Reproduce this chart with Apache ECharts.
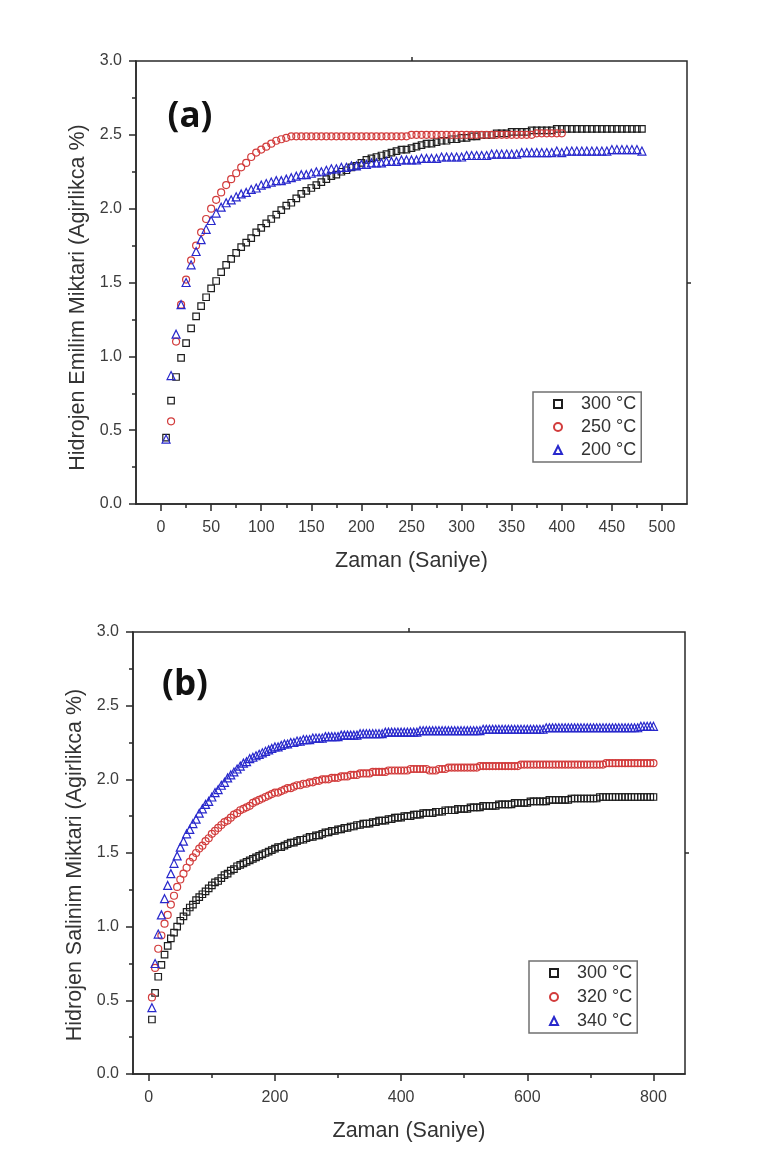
<!DOCTYPE html>
<html>
<head>
<meta charset="utf-8">
<script src="https://cdn.jsdelivr.net/npm/echarts@6/dist/echarts.min.js"></script>
<style>
  html, body { margin: 0; padding: 0; background: #ffffff; }
  #chart { width: 782px; height: 1156px; }
</style>
</head>
<body>
<div id="chart"></div>
<script>
// ---- Panel (a): hydrogen absorption, time in seconds ----
const timeA = [5,10,15,20,25,30,35,40,45,50,55,60,65,70,75,80,85,90,95,100,
  105,110,115,120,125,130,135,140,145,150,155,160,165,170,175,180,185,190,195,200,
  205,210,215,220,225,230,235,240,245,250,255,260,265,270,275,280,285,290,295,300,
  305,310,315,320,325,330,335,340,345,350,355,360,365,370,375,380,385,390,395,400,
  405,410,415,420,425,430,435,440,445,450,455,460,465,470,475,480];
const timeA250 = [10,15,20,25,30,35,40,45,50,55,60,65,70,75,80,85,90,95,100,105,
  110,115,120,125,130,135,140,145,150,155,160,165,170,175,180,185,190,195,200,205,
  210,215,220,225,230,235,240,245,250,255,260,265,270,275,280,285,290,295,300,305,
  310,315,320,325,330,335,340,345,350,355,360,365,370,375,380,385,390,395,400];

const absorb300 = [0.45,0.70,0.86,0.99,1.09,1.19,1.27,1.34,1.40,1.46,
  1.51,1.57,1.62,1.66,1.70,1.74,1.77,1.80,1.84,1.87,
  1.90,1.93,1.96,1.99,2.02,2.04,2.07,2.10,2.12,2.14,
  2.16,2.18,2.20,2.22,2.23,2.25,2.26,2.28,2.29,2.31,
  2.33,2.34,2.35,2.36,2.37,2.38,2.39,2.40,2.40,2.41,
  2.42,2.43,2.44,2.44,2.45,2.46,2.46,2.47,2.47,2.48,
  2.48,2.49,2.49,2.50,2.50,2.50,2.51,2.51,2.51,2.52,
  2.52,2.52,2.52,2.53,2.53,2.53,2.53,2.53,2.54,2.54,
  2.54,2.54,2.54,2.54,2.54,2.54,2.54,2.54,2.54,2.54,
  2.54,2.54,2.54,2.54,2.54,2.54];
const absorb250 = [0.56,1.10,1.35,1.52,1.65,1.75,1.84,1.93,2.00,2.06,
  2.11,2.16,2.20,2.24,2.28,2.31,2.35,2.38,2.40,2.42,
  2.44,2.46,2.47,2.48,2.49,2.49,2.49,2.49,2.49,2.49,
  2.49,2.49,2.49,2.49,2.49,2.49,2.49,2.49,2.49,2.49,
  2.49,2.49,2.49,2.49,2.49,2.49,2.49,2.49,2.50,2.50,
  2.50,2.50,2.50,2.50,2.50,2.50,2.50,2.50,2.50,2.50,
  2.50,2.50,2.50,2.50,2.50,2.50,2.50,2.50,2.50,2.50,
  2.50,2.50,2.50,2.51,2.51,2.51,2.51,2.51,2.51];
const absorb200 = [0.44,0.87,1.15,1.35,1.50,1.62,1.71,1.79,1.86,1.92,
  1.97,2.01,2.04,2.06,2.08,2.10,2.11,2.13,2.14,2.16,
  2.17,2.18,2.19,2.19,2.20,2.21,2.22,2.23,2.23,2.24,
  2.25,2.25,2.26,2.27,2.27,2.28,2.28,2.29,2.29,2.30,
  2.30,2.31,2.31,2.31,2.32,2.32,2.32,2.33,2.33,2.33,
  2.33,2.34,2.34,2.34,2.34,2.35,2.35,2.35,2.35,2.35,
  2.36,2.36,2.36,2.36,2.36,2.37,2.37,2.37,2.37,2.37,
  2.37,2.38,2.38,2.38,2.38,2.38,2.38,2.38,2.39,2.38,
  2.39,2.39,2.39,2.39,2.39,2.39,2.39,2.39,2.39,2.40,
  2.40,2.40,2.40,2.40,2.40,2.39];

// ---- Panel (b): hydrogen desorption ----
const timeB = [5,10,15,20,25,30,35,40,45,50,55,60,65,70,75,80,85,90,95,100,
  105,110,115,120,125,130,135,140,145,150,155,160,165,170,175,180,185,190,195,200,
  205,210,215,220,225,230,235,240,245,250,255,260,265,270,275,280,285,290,295,300,
  305,310,315,320,325,330,335,340,345,350,355,360,365,370,375,380,385,390,395,400,
  405,410,415,420,425,430,435,440,445,450,455,460,465,470,475,480,485,490,495,500,
  505,510,515,520,525,530,535,540,545,550,555,560,565,570,575,580,585,590,595,600,
  605,610,615,620,625,630,635,640,645,650,655,660,665,670,675,680,685,690,695,700,
  705,710,715,720,725,730,735,740,745,750,755,760,765,770,775,780,785,790,795,800];

const release300 = [0.37,0.55,0.66,0.74,0.81,0.87,0.92,0.96,1.00,1.04,
  1.07,1.10,1.13,1.15,1.18,1.20,1.22,1.24,1.26,1.28,
  1.30,1.31,1.33,1.35,1.36,1.38,1.39,1.41,1.42,1.43,
  1.44,1.45,1.46,1.47,1.48,1.49,1.50,1.51,1.52,1.53,
  1.54,1.54,1.55,1.56,1.57,1.57,1.58,1.59,1.59,1.60,
  1.61,1.61,1.62,1.62,1.63,1.64,1.64,1.65,1.65,1.66,
  1.66,1.67,1.67,1.68,1.68,1.69,1.69,1.70,1.70,1.70,
  1.71,1.71,1.72,1.72,1.72,1.73,1.73,1.74,1.74,1.74,
  1.75,1.75,1.75,1.76,1.76,1.76,1.77,1.77,1.77,1.77,
  1.78,1.78,1.78,1.79,1.79,1.79,1.79,1.80,1.80,1.80,
  1.80,1.81,1.81,1.81,1.81,1.82,1.82,1.82,1.82,1.82,
  1.83,1.83,1.83,1.83,1.83,1.84,1.84,1.84,1.84,1.84,
  1.85,1.85,1.85,1.85,1.85,1.85,1.86,1.86,1.86,1.86,
  1.86,1.86,1.86,1.87,1.87,1.87,1.87,1.87,1.87,1.87,
  1.87,1.87,1.88,1.88,1.88,1.88,1.88,1.88,1.88,1.88,
  1.88,1.88,1.88,1.88,1.88,1.88,1.88,1.88,1.88,1.88];
const release320 = [0.52,0.72,0.85,0.94,1.02,1.08,1.15,1.21,1.27,1.32,
  1.36,1.40,1.44,1.47,1.50,1.53,1.55,1.58,1.60,1.63,
  1.65,1.67,1.69,1.71,1.72,1.74,1.76,1.77,1.79,1.80,
  1.81,1.82,1.84,1.85,1.86,1.87,1.88,1.89,1.90,1.91,
  1.91,1.92,1.93,1.94,1.94,1.95,1.96,1.96,1.97,1.97,
  1.98,1.98,1.99,1.99,2.00,2.00,2.00,2.01,2.01,2.01,
  2.02,2.02,2.02,2.03,2.03,2.03,2.04,2.04,2.04,2.04,
  2.05,2.05,2.05,2.05,2.05,2.06,2.06,2.06,2.06,2.06,
  2.06,2.06,2.07,2.07,2.07,2.07,2.07,2.07,2.06,2.06,
  2.06,2.07,2.07,2.07,2.08,2.08,2.08,2.08,2.08,2.08,
  2.08,2.08,2.08,2.08,2.09,2.09,2.09,2.09,2.09,2.09,
  2.09,2.09,2.09,2.09,2.09,2.09,2.09,2.10,2.10,2.10,
  2.10,2.10,2.10,2.10,2.10,2.10,2.10,2.10,2.10,2.10,
  2.10,2.10,2.10,2.10,2.10,2.10,2.10,2.10,2.10,2.10,
  2.10,2.10,2.10,2.10,2.11,2.11,2.11,2.11,2.11,2.11,
  2.11,2.11,2.11,2.11,2.11,2.11,2.11,2.11,2.11,2.11];
const release340 = [0.45,0.75,0.95,1.08,1.19,1.28,1.36,1.43,1.48,1.54,
  1.58,1.63,1.66,1.70,1.73,1.77,1.80,1.83,1.85,1.88,
  1.91,1.93,1.96,1.98,2.01,2.03,2.05,2.07,2.09,2.11,
  2.12,2.14,2.15,2.16,2.17,2.18,2.19,2.20,2.21,2.22,
  2.22,2.23,2.24,2.24,2.25,2.25,2.26,2.26,2.27,2.27,
  2.27,2.28,2.28,2.28,2.28,2.29,2.29,2.29,2.29,2.29,
  2.30,2.30,2.30,2.30,2.30,2.30,2.31,2.31,2.31,2.31,
  2.31,2.31,2.31,2.31,2.32,2.32,2.32,2.32,2.32,2.32,
  2.32,2.32,2.32,2.32,2.32,2.33,2.33,2.33,2.33,2.33,
  2.33,2.33,2.33,2.33,2.33,2.33,2.33,2.33,2.33,2.33,
  2.33,2.33,2.33,2.33,2.33,2.34,2.34,2.34,2.34,2.34,
  2.34,2.34,2.34,2.34,2.34,2.34,2.34,2.34,2.34,2.34,
  2.34,2.34,2.34,2.34,2.34,2.35,2.35,2.35,2.35,2.35,
  2.35,2.35,2.35,2.35,2.35,2.35,2.35,2.35,2.35,2.35,
  2.35,2.35,2.35,2.35,2.35,2.35,2.35,2.35,2.35,2.35,
  2.35,2.35,2.35,2.35,2.35,2.36,2.36,2.36,2.36,2.36];

// ---- Axis ticks and labels ----
const xMajorA = [0,50,100,150,200,250,300,350,400,450,500];
const xMinorA = [25,75,125,175,225,275,325,375,425,475];
const xMajorB = [0,200,400,600,800];
const xMinorB = [100,300,500,700];
// single ticks on the mirrored top / right frame edges
const topTickA = [250];
const topTickB = [412.5];
const rightTick = [1.5];

const legendA = ['300 °C', '250 °C', '200 °C'];
const legendB = ['300 °C', '320 °C', '340 °C'];

const FONT = 'Liberation Sans, Arial, sans-serif';
const AXIS_COLOR = '#2a2a2a';
const LABEL_COLOR = '#3c3c3c';
const TITLE_SIZE = 21.5;
const COLORS = { black: '#1e1e1e', red: '#d23c3c', blue: '#2828cc' };

const zip = (xs, ys) => xs.map((x, i) => [x, ys[i]]);
const tickStyle = { color: AXIS_COLOR, width: 1.5 };

function xAxesFor(gridIndex, min, max, majors, minors, name) {
  return [
    {
      type: 'value', gridIndex, min, max, position: 'bottom',
      name, nameLocation: 'middle', nameGap: 46,
      nameTextStyle: { fontFamily: FONT, fontSize: TITLE_SIZE, color: '#333' },
      axisLine: { show: true, onZero: false, lineStyle: tickStyle },
      axisTick: { show: true, customValues: majors, length: 7, lineStyle: tickStyle },
      axisLabel: { show: true, customValues: majors, margin: 16, fontFamily: FONT, fontSize: 16, color: LABEL_COLOR },
      splitLine: { show: false }
    },
    {
      type: 'value', gridIndex, min, max, position: 'bottom', offset: 0,
      axisLine: { show: false, onZero: false },
      axisTick: { show: true, customValues: minors, length: 4, lineStyle: tickStyle },
      axisLabel: { show: false, customValues: minors },
      splitLine: { show: false }
    }
  ];
}

function topAxisFor(gridIndex, min, max, ticks) {
  return {
    type: 'value', gridIndex, min, max, position: 'top',
    axisLine: { show: false, onZero: false },
    axisTick: { show: true, customValues: ticks, length: 4, lineStyle: tickStyle },
    axisLabel: { show: false, customValues: ticks },
    splitLine: { show: false }
  };
}

function yAxisFor(gridIndex, name, shift) {
  return {
    type: 'value', gridIndex, min: 0, max: 3, interval: 0.5,
    name, nameLocation: 'middle', nameGap: 47,
    nameTextStyle: { fontFamily: FONT, fontSize: TITLE_SIZE, color: '#333', padding: [0, shift, 0, 0] },
    axisLine: { show: true, onZero: false, lineStyle: tickStyle },
    axisTick: { show: true, length: 7, lineStyle: tickStyle },
    minorTick: { show: true, splitNumber: 2, length: 4, lineStyle: tickStyle },
    axisLabel: { margin: 14, fontFamily: FONT, fontSize: 16, color: LABEL_COLOR,
      formatter: v => v.toFixed(1) },
    splitLine: { show: false },
    minorSplitLine: { show: false }
  };
}

function rightAxisFor(gridIndex) {
  return {
    type: 'value', gridIndex, min: 0, max: 3, position: 'right',
    axisLine: { show: false, onZero: false },
    axisTick: { show: true, customValues: rightTick, length: 4, lineStyle: tickStyle },
    axisLabel: { show: false, customValues: rightTick },
    splitLine: { show: false }
  };
}

function markers(name, xAxisIndex, yAxisIndex, data, symbol, size, color) {
  return {
    type: 'scatter', name, xAxisIndex, yAxisIndex, data,
    symbol, symbolSize: size,
    itemStyle: { color: 'rgba(255,255,255,0)', borderColor: color, borderWidth: 1.2, opacity: 1 },
    emphasis: { disabled: true }
  };
}

function legendFor(names, left, top, gap, padLeft) {
  return {
    data: names, orient: 'vertical', left, top,
    padding: [2, 5, 2, padLeft], itemGap: gap,
    itemWidth: 8, itemHeight: 8,
    borderColor: '#707070', borderWidth: 1.5, borderRadius: 0,
    backgroundColor: '#ffffff',
    selectedMode: false,
    textStyle: { fontFamily: FONT, fontSize: 18, lineHeight: 20, color: '#333', padding: [0, 0, 0, 14] }
  };
}

const chart = echarts.init(document.getElementById('chart'), null, { renderer: 'canvas' });

chart.setOption({
  animation: false,
  backgroundColor: '#ffffff',
  grid: [
    { left: 136, top: 61, width: 551, height: 443, show: true, borderColor: AXIS_COLOR, borderWidth: 1.5, containLabel: false },
    { left: 133, top: 632, width: 552, height: 442, show: true, borderColor: AXIS_COLOR, borderWidth: 1.5, containLabel: false }
  ],
  xAxis: [
    ...xAxesFor(0, -25, 525, xMajorA, xMinorA, 'Zaman (Saniye)'),
    ...xAxesFor(1, -25, 850, xMajorB, xMinorB, 'Zaman (Saniye)'),
    topAxisFor(0, -25, 525, topTickA),
    topAxisFor(1, -25, 850, topTickB)
  ],
  yAxis: [
    yAxisFor(0, 'Hidrojen Emilim Miktari (Agirlikca %)', 30),
    yAxisFor(1, 'Hidrojen Salinim Miktari (Agirlikca %)', 24),
    rightAxisFor(0),
    rightAxisFor(1)
  ],
  legend: [
    legendFor(legendA, 533, 392, 3, 20),
    legendFor(legendB, 529, 961, 4, 20)
  ],
  graphic: [
    { type: 'text', x: 190, y: 117, style: { text: '(a)', font: 'bold 35px "Open Sans", Lato, sans-serif', fill: '#111', align: 'center', verticalAlign: 'middle' } },
    { type: 'text', x: 185, y: 685, style: { text: '(b)', font: 'bold 35px "Open Sans", Lato, sans-serif', fill: '#111', align: 'center', verticalAlign: 'middle' } }
  ],
  series: [
    markers('300 °C', 0, 0, zip(timeA, absorb300), 'rect', 6.5, COLORS.black),
    markers('250 °C', 0, 0, zip(timeA250, absorb250), 'circle', 7, COLORS.red),
    markers('200 °C', 0, 0, zip(timeA, absorb200), 'triangle', 8, COLORS.blue),
    markers('300 °C', 2, 1, zip(timeB, release300), 'rect', 6.5, COLORS.black),
    markers('320 °C', 2, 1, zip(timeB, release320), 'circle', 7, COLORS.red),
    markers('340 °C', 2, 1, zip(timeB, release340), 'triangle', 8, COLORS.blue)
  ]
});
</script>
</body>
</html>
